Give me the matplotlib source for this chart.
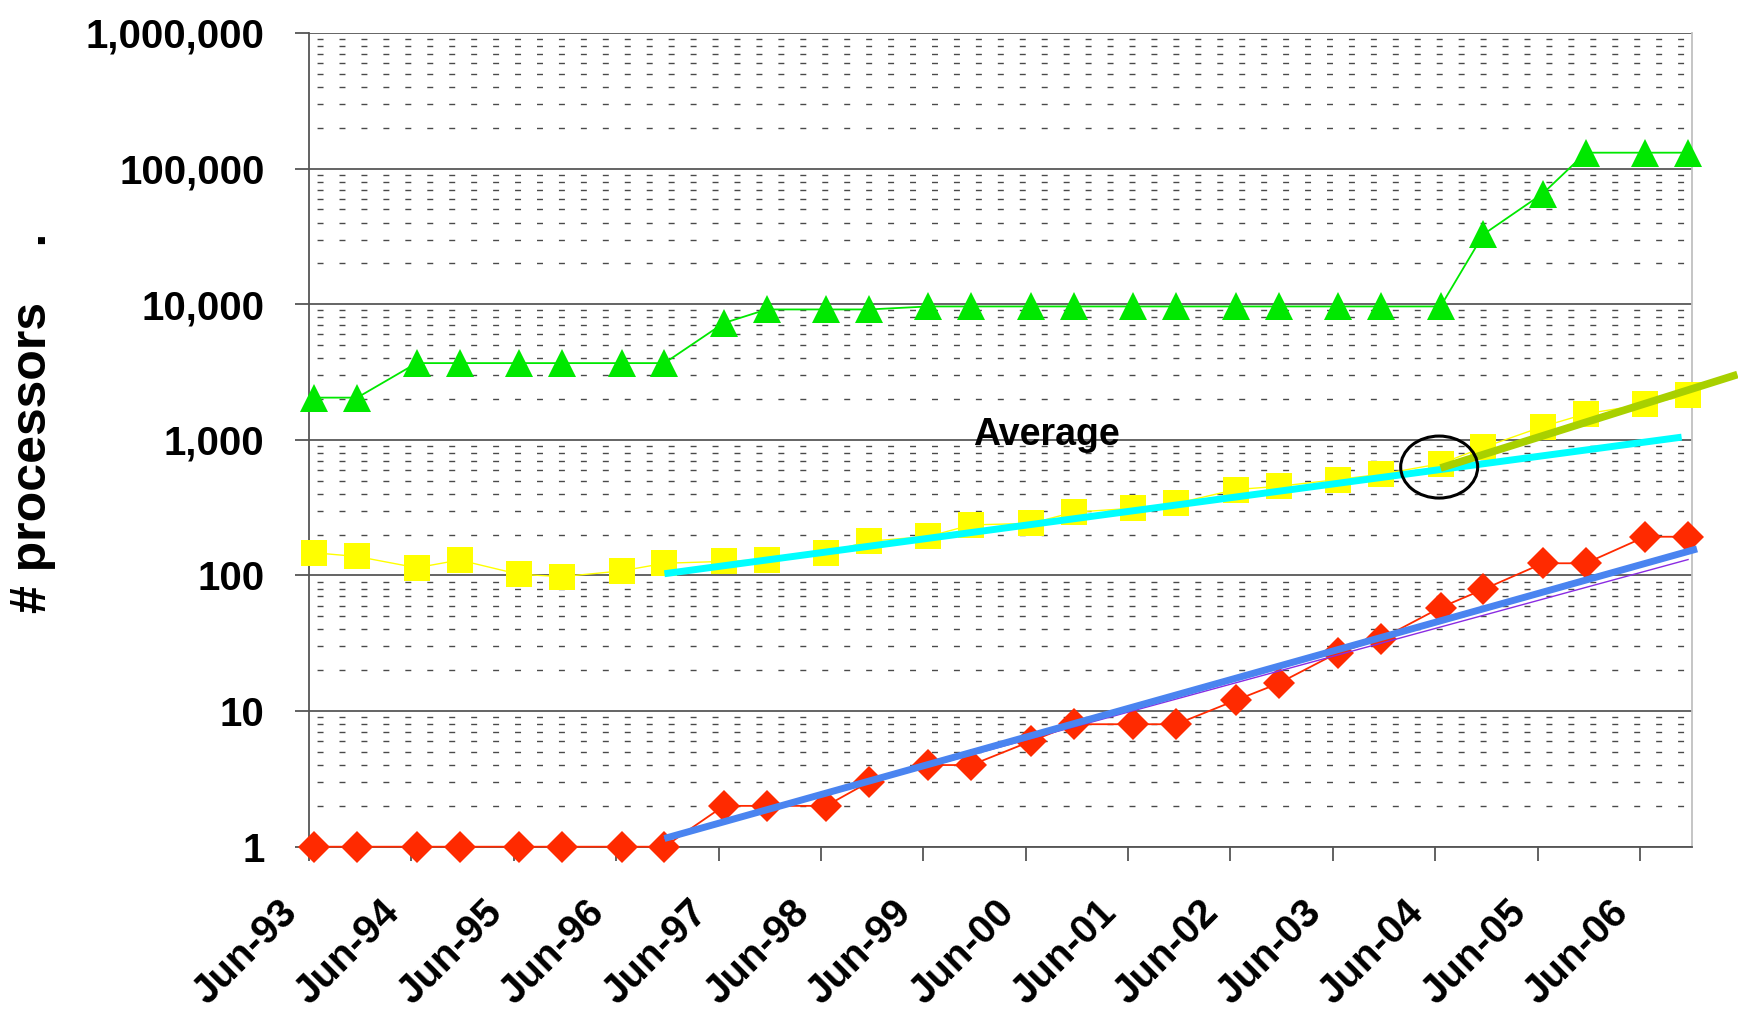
import matplotlib
matplotlib.use("Agg")
import matplotlib.pyplot as plt
import matplotlib.dates as mdates
from matplotlib.ticker import FixedLocator, FuncFormatter, LogLocator, NullFormatter
from matplotlib.patches import Ellipse
from matplotlib.transforms import ScaledTranslation
import pandas as pd

plt.rcParams['font.family'] = ['Liberation Sans', 'DejaVu Sans']

#%% data (TOP500 lists, June and November)
list_dates = ['1993-06-20', '1993-11-20', '1994-06-20', '1994-11-20', '1995-06-20', '1995-11-20',
              '1996-06-20', '1996-11-20', '1997-06-20', '1997-11-20', '1998-06-20', '1998-11-20',
              '1999-06-20', '1999-11-20', '2000-06-20', '2000-11-20', '2001-06-20', '2001-11-20',
              '2002-06-20', '2002-11-20', '2003-06-20', '2003-11-20', '2004-06-20', '2004-11-20',
              '2005-06-20', '2005-11-20', '2006-06-20', '2006-11-20']

max_procs = [2048, 2048, 3680, 3680, 3680, 3680, 3680, 3680, 7264, 9152, 9152, 9152,
             9632, 9632, 9632, 9632, 9632, 9632, 9632, 9632, 9632, 9632, 9632, 32768,
             65536, 131072, 131072, 131072]
avg_procs = [147, 138, 114, 130, 102, 98, 108, 123, 127, 131, 147, 179,
             194, 236, 242, 293, 313, 340, 430, 454, 510, 557, 667, 880,
             1254, 1556, 1832, 2124]
min_procs = [1, 1, 1, 1, 1, 1, 1, 1, 2, 2, 2, 3,
             4, 4, 6, 8, 8, 8, 12, 16, 27, 34, 58, 79,
             123, 123, 193, 193]

# fitted trend lines (end points)
avg_fit_dates, avg_fit = ['1996-11-20', '2006-10-28'], [103, 1047]
min_fit_dates, min_fit = ['1996-11-20', '2006-12-22'], [1.15, 157]
min_fit2_dates, min_fit2 = ['1996-11-20', '2006-11-20'], [1.15, 131]
recent_fit_dates, recent_fit = ['2004-06-20', '2007-05-15'], [620, 3030]

highlight_date, highlight_value = '2004-06-15', 630
label_date, label_value = '1999-11-25', 917

yticks = [1, 10, 100, 1000, 10000, 100000, 1000000]
tick_years = list(range(1993, 2007))

dates = pd.to_datetime(list_dates)

#%% plot
fig = plt.figure(figsize=(17.38, 10.14), dpi=100)
ax = fig.add_axes([309/1738, 1 - 846.7/1014, (1692 - 309)/1738, (846.7 - 33)/1014])

ax.set_yscale('log')
ax.set_ylim(1, 1000000)
ax.set_xlim(pd.Timestamp('1993-06-01'), pd.Timestamp('2006-12-04'))

## grid
ax.yaxis.set_major_locator(FixedLocator(yticks))
ax.yaxis.set_major_formatter(FuncFormatter(lambda v, p: '{:,.0f}'.format(v)))
ax.yaxis.set_minor_locator(LogLocator(base=10, subs=range(2, 10)))
ax.yaxis.set_minor_formatter(NullFormatter())
ax.grid(which='major', axis='y', color='#4a4a4a', linewidth=1.2, zorder=0)
ax.grid(which='minor', axis='y', color='#4a4a4a', linewidth=1.0,
        linestyle=(10, (4.3, 11.5)), zorder=0)
ax.set_axisbelow(True)

## series
ax.plot(dates, max_procs, color='#00e800', linewidth=1.3, marker='^', markersize=19.5,
        markeredgewidth=0, clip_on=False, zorder=3)
ax.plot(dates, avg_procs, color='#ffff00', linewidth=1.0, marker='s', markersize=19,
        markeredgewidth=0, clip_on=False, zorder=3)
ax.plot(dates, min_procs, color='#ff2a00', linewidth=1.3, marker='D', markersize=16,
        markeredgewidth=0, clip_on=False, zorder=3)

## trend lines
ax.plot(pd.to_datetime(min_fit2_dates), min_fit2, color='#8a2be2', linewidth=1.0, zorder=4)
ax.plot(pd.to_datetime(avg_fit_dates), avg_fit, color='#00ffff', linewidth=5.0,
        solid_capstyle='butt', zorder=5)
ax.plot(pd.to_datetime(min_fit_dates), min_fit, color='#4a84f0', linewidth=5.0,
        solid_capstyle='butt', clip_on=False, zorder=5)
ax.plot(pd.to_datetime(recent_fit_dates), recent_fit, color='#a8d000', linewidth=5.5,
        solid_capstyle='butt', clip_on=False, zorder=6)

## circle round the break point
trans = fig.dpi_scale_trans + ScaledTranslation(mdates.date2num(pd.Timestamp(highlight_date)),
                                                highlight_value, ax.transData)
ax.add_patch(Ellipse((0, 0), 0.77, 0.62, transform=trans, fill=False,
                     edgecolor='black', linewidth=2.2, zorder=7, clip_on=False))

ax.text(pd.Timestamp(label_date), label_value, 'Average', fontsize=27, fontweight='bold',
        ha='left', va='baseline', zorder=8)

## x axis
xticks = [pd.Timestamp('%d-06-01' % y) for y in tick_years]
ax.set_xticks(xticks)
ax.set_xticklabels([t.strftime('Jun-%y') for t in xticks], rotation=45, ha='right',
                   rotation_mode='anchor', fontsize=29, fontweight='bold')
ax.xaxis.set_minor_locator(FixedLocator([]))

ax.tick_params(axis='x', which='major', direction='out', length=10, width=1.3,
               color='#555555', pad=8)
ax.tick_params(axis='y', which='major', direction='out', length=10, width=1.3,
               color='#555555', pad=22, labelsize=29)
ax.tick_params(axis='y', which='minor', length=0)
for lab in ax.get_yticklabels():
    lab.set_fontweight('bold')

## shift the slanted date labels down and left, as in the original
shift = ScaledTranslation(-0.31, -0.21, fig.dpi_scale_trans)
for lab in ax.get_xticklabels():
    lab.set_transform(lab.get_transform() + shift)

## spines
ax.spines['top'].set_visible(False)
ax.spines['left'].set_color('#555555')
ax.spines['left'].set_linewidth(1.3)
ax.spines['bottom'].set_color('#555555')
ax.spines['bottom'].set_linewidth(1.3)
ax.spines['right'].set_color('#c0c0c0')
ax.spines['right'].set_linewidth(1.3)

## y label
fig.text(33/1738, 1 - 613/1014, '# processors    .', rotation=90, ha='center',
         va='bottom', fontsize=36, fontweight='bold')

fig.savefig('out.png', dpi=100)
